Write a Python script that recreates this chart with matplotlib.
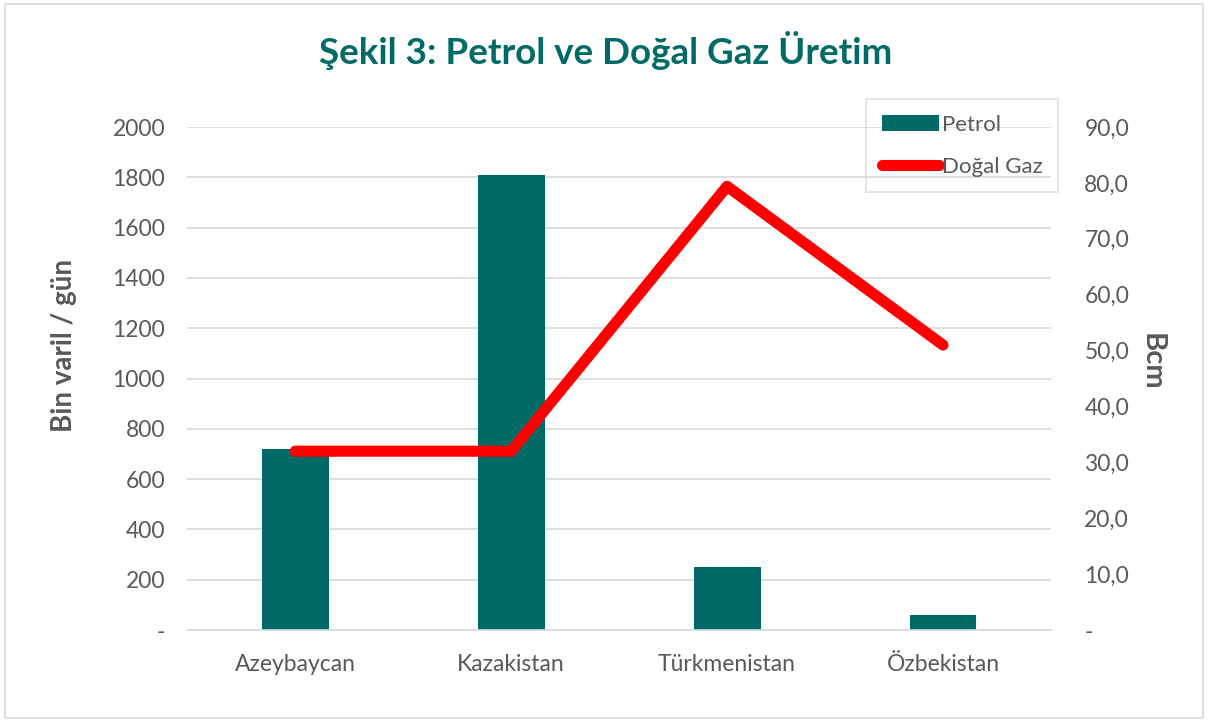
import matplotlib.pyplot as plt
import matplotlib.patches as patches
from matplotlib.ticker import FuncFormatter

plt.rcParams['font.family'] = ['Lato', 'DejaVu Sans']

countries = ["Azeybaycan", "Kazakistan", "Türkmenistan", "Özbekistan"]
petrol = [720, 1810, 250, 60]
dogal_gaz = [32.0, 32.0, 79.4, 51.0]

teal = "#006a66"
gray = "#595959"

fig = plt.figure(figsize=(12.08, 7.22), dpi=100)
ax = fig.add_axes([0.155, 0.1274, 0.715, 0.6966])
ax2 = ax.twinx()

x = range(len(countries))
ax.bar(x, petrol, width=0.31, color=teal, zorder=2, label="Petrol")
ax2.plot(x, dogal_gaz, color="#ff0000", linewidth=8, solid_capstyle="round",
         solid_joinstyle="round", label="Doğal Gaz")

ax.set_xlim(-0.5, 3.5)
ax.set_ylim(0, 2000)
ax.set_yticks(range(0, 2001, 200))
ax2.set_ylim(0, 90)
ax2.set_yticks(range(0, 91, 10))

ax.yaxis.set_major_formatter(FuncFormatter(lambda v, p: "-" if v == 0 else f"{v:.0f}"))
ax2.yaxis.set_major_formatter(FuncFormatter(lambda v, p: "-" if v == 0 else f"{v:.1f}".replace(".", ",")))

ax.set_xticks(list(x))
ax.set_xticklabels(countries)
ax.grid(axis="y", color="#d9d9d9", linewidth=1.2, zorder=0)
ax.set_axisbelow(True)

for a in (ax, ax2):
    for s in a.spines.values():
        s.set_visible(False)
    a.tick_params(length=0, labelsize=16.5, labelcolor=gray)
ax.spines["bottom"].set_visible(True)
ax.spines["bottom"].set_color("#d9d9d9")
ax.spines["bottom"].set_linewidth(1.2)
ax.tick_params(axis="x", pad=17)
ax.tick_params(axis="y", pad=16)
ax2.tick_params(axis="y", pad=24)

# eksen başlıkları
fig.text(64 / 1208, 1 - 345 / 722, "Bin varil / gün", ha="center", va="center", rotation=90,
         fontsize=20, fontweight="bold", color=gray)
fig.text(1152 / 1208, 1 - 362 / 722, "Bcm", ha="center", va="center", rotation=270,
         fontsize=21, fontweight="bold", color=gray)

fig.text(606 / 1208, 1 - 50 / 722, "Şekil 3: Petrol ve Doğal Gaz Üretim", ha="center", va="center",
         fontsize=26.5, fontweight="bold", color=teal)

h1, l1 = ax.get_legend_handles_labels()
h2, l2 = ax2.get_legend_handles_labels()
leg = fig.legend(h1 + h2, l1 + l2, loc="upper right", bbox_to_anchor=(1058 / 1208, 1 - 99 / 722),
                 fontsize=16, frameon=True, fancybox=False, edgecolor="#d9d9d9",
                 handlelength=2.6, handletextpad=0.1, labelspacing=1.0, borderpad=0.7,
                 borderaxespad=0)
leg.get_frame().set_linewidth(1.2)
leg.get_frame().set_facecolor("none")
for t in leg.get_texts():
    t.set_color(gray)

# grafik çerçevesi
fig.add_artist(patches.Rectangle((0.004, 0.006), 0.992, 0.988, transform=fig.transFigure,
                                 fill=False, edgecolor="#d9d9d9", linewidth=1.2))

fig.savefig("out.png", dpi=100)
